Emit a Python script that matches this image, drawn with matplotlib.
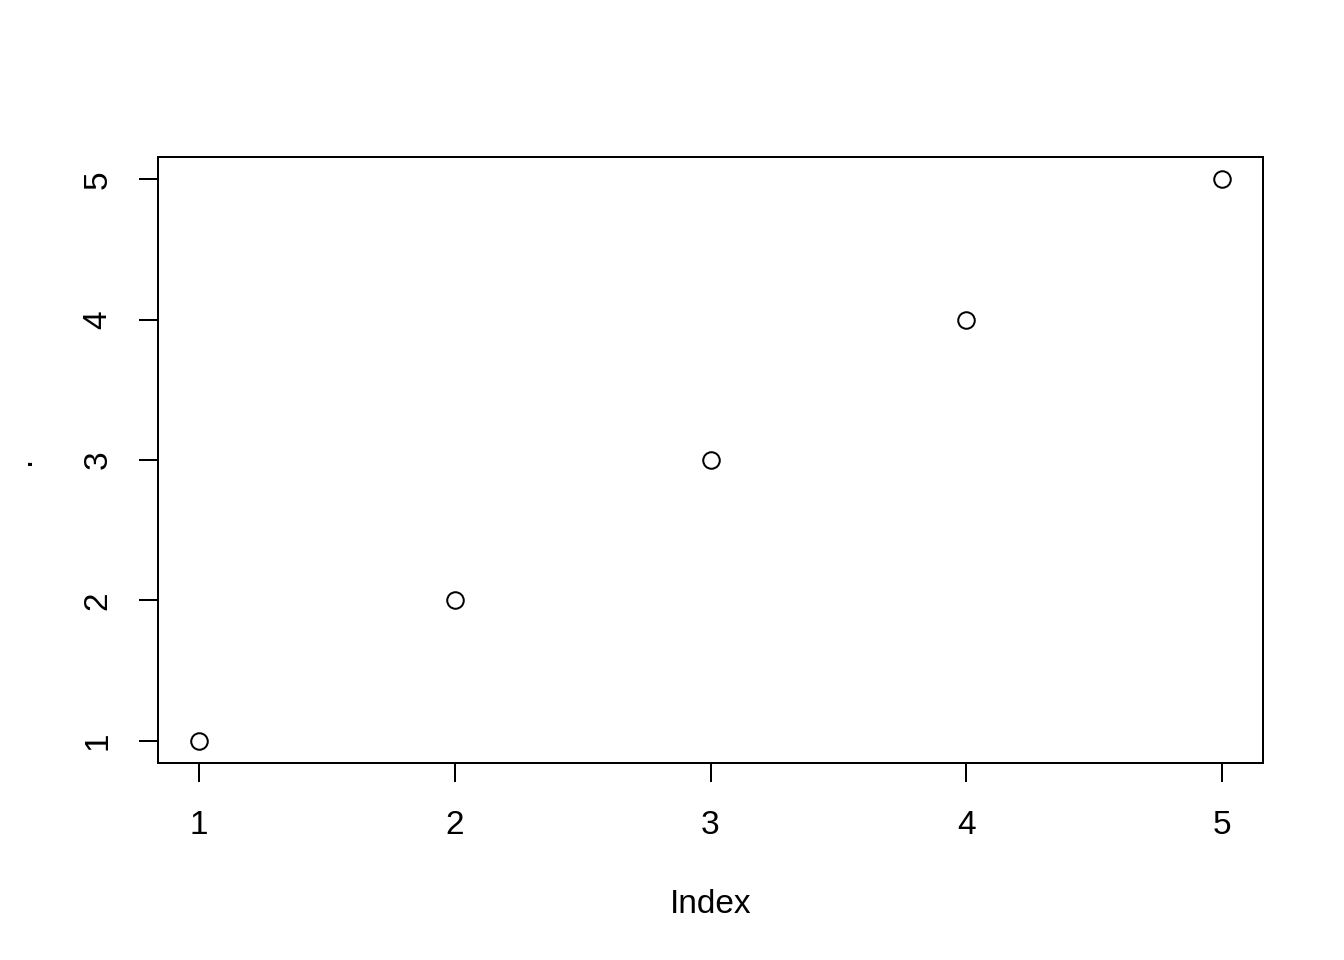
import matplotlib
matplotlib.use("Agg")
import matplotlib.pyplot as plt

plt.rcParams['font.family'] = ['Liberation Sans', 'DejaVu Sans']

index = [1, 2, 3, 4, 5]
values = [1, 2, 3, 4, 5]
x_ticks = [1, 2, 3, 4, 5]
y_ticks = [1, 2, 3, 4, 5]

fig = plt.figure(figsize=(7, 5), dpi=192)
ax = fig.add_axes([158 / 1344, 1 - 763 / 960, (1263 - 158) / 1344, (763 - 157) / 960])

ax.plot(index, values, linestyle='none', marker='o', markersize=6.2,
        markerfacecolor='none', markeredgecolor='black', markeredgewidth=0.75)

ax.set_xlim(0.84, 5.16)
ax.set_ylim(0.84, 5.16)
ax.set_xticks(x_ticks)
ax.set_yticks(y_ticks)
ax.set_xticklabels([str(t) for t in x_ticks])
ax.set_yticklabels([str(t) for t in y_ticks], rotation=90, va='center')
ax.tick_params(direction='out', length=7.1, width=0.75, labelsize=12.5)
ax.tick_params(axis='x', pad=10.5)
ax.tick_params(axis='y', pad=9.5)

for s in ax.spines.values():
    s.set_linewidth(0.75)

ax.set_xlabel("Index", fontsize=12.5, labelpad=18)
ax.set_ylabel(".", fontsize=12.5, labelpad=17)

fig.savefig("out.png", dpi=192)
